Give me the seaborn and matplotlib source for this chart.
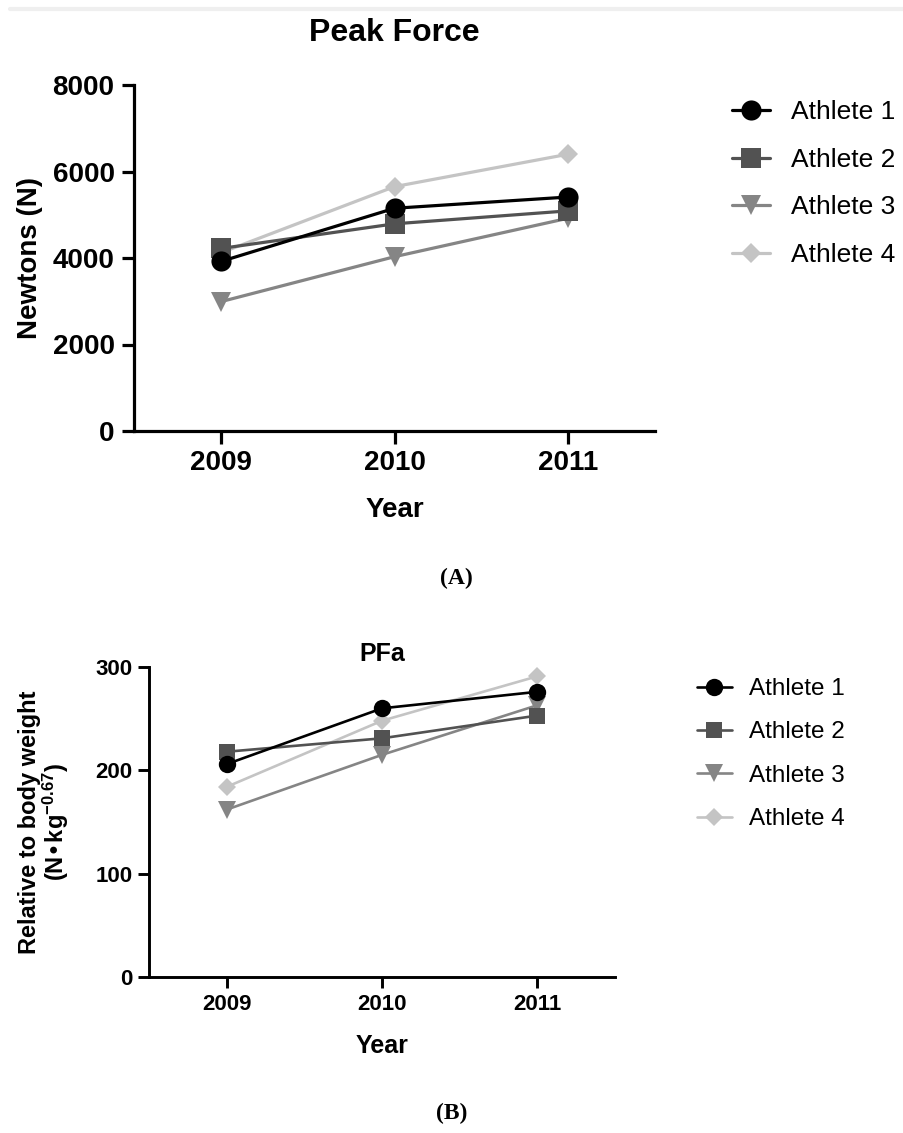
import numpy as np
import matplotlib
matplotlib.use('Agg')
import matplotlib.pyplot as plt
import seaborn as sns
import pandas as pd

# data
years = [2009, 2010, 2011]
athletes = ['Athlete 1', 'Athlete 2', 'Athlete 3', 'Athlete 4']

# Peak force (N)
pf_athlete1 = [3920, 5150, 5410]
pf_athlete2 = [4220, 4790, 5090]
pf_athlete3 = [2990, 4030, 4920]
pf_athlete4 = [4120, 5650, 6400]

# PFa, relative to body weight (N*kg^-0.67)
pfa_athlete1 = [206, 260, 276]
pfa_athlete2 = [218, 231, 253]
pfa_athlete3 = [162, 215, 263]
pfa_athlete4 = [184, 248, 291]

colors = ['#000000', '#525252', '#858585', '#c4c4c4']
markers = ['o', 's', 'v', 'D']

sns.set_style('ticks')
plt.rcParams['font.family'] = ['Liberation Sans', 'DejaVu Sans']
plt.rcParams['mathtext.default'] = 'regular'
for k in ['text.color', 'axes.labelcolor', 'xtick.color', 'ytick.color', 'axes.edgecolor']:
    plt.rcParams[k] = 'black'


def long_table(series):
    rows = []
    for name, vals in zip(athletes, series):
        for yr, v in zip(years, vals):
            rows.append({'Year': yr, 'Value': v, 'Athlete': name})
    return pd.DataFrame(rows)


def draw_panel(ax, df, msize, lw, tick_fs, spine_w, tick_len, pad):
    sizes = {'o': msize, 's': msize * 0.97, 'v': msize, 'D': msize * 0.72}
    # draw athlete 4 first so athlete 1 ends up on top
    for name, col, mk in reversed(list(zip(athletes, colors, markers))):
        sub = df[df['Athlete'] == name]
        sns.lineplot(data=sub, x='Year', y='Value', ax=ax, color=col, marker=mk,
                     markersize=sizes[mk], markeredgewidth=0, linewidth=lw,
                     label=name, clip_on=False, legend=False)
    ax.set_xlim(2008.5, 2011.5)
    ax.set_xticks(years)
    ax.set_xticklabels([str(y) for y in years])
    sns.despine(ax=ax)
    for s in ['left', 'bottom']:
        ax.spines[s].set_linewidth(spine_w)
    ax.tick_params(width=spine_w, length=tick_len, labelsize=tick_fs, pad=pad, color='black')
    ax.grid(False)


fig = plt.figure(figsize=(9.04, 11.33), dpi=100)
W, H = 904, 1133

# faint border line at the very top
fig.add_artist(plt.Line2D([10 / W, 1], [1 - 9 / H, 1 - 9 / H], color='#efefef', linewidth=3))

# ---------- Panel A ----------
axA = fig.add_axes([134 / W, 1 - 431 / H, 521 / W, 346 / H])
dfA = long_table([pf_athlete1, pf_athlete2, pf_athlete3, pf_athlete4])
draw_panel(axA, dfA, msize=14.5, lw=2.3, tick_fs=20, spine_w=2.3, tick_len=9, pad=5)
axA.set_ylim(0, 8000)
axA.set_yticks([0, 2000, 4000, 6000, 8000])
for lab in axA.get_xticklabels() + axA.get_yticklabels():
    lab.set_fontweight('bold')
axA.set_title('Peak Force', fontsize=23, fontweight='bold', pad=32)
axA.set_xlabel('Year', fontsize=20, fontweight='bold')
axA.set_ylabel('Newtons (N)', fontsize=20, fontweight='bold')
axA.xaxis.set_label_coords(0.5, -0.19)
axA.yaxis.set_label_coords(-0.2, 0.5)
axA.yaxis.label.set_va('center')

hA, lA = axA.get_legend_handles_labels()
order = [lA.index(a) for a in athletes]
fig.legend([hA[i] for i in order], [lA[i] for i in order], loc='upper left',
           bbox_to_anchor=(732 / W, 1 - 100 / H), frameon=False, fontsize=19,
           handlelength=1.45, handletextpad=0.8, labelspacing=0.9,
           borderpad=0, borderaxespad=0)

fig.text(456 / W, 1 - 578 / H, '(A)', ha='center', va='center', fontsize=17,
         fontweight='bold', family=['Liberation Serif', 'DejaVu Serif'])

# ---------- Panel B ----------
axB = fig.add_axes([149 / W, 1 - 977 / H, 466 / W, 310 / H])
dfB = long_table([pfa_athlete1, pfa_athlete2, pfa_athlete3, pfa_athlete4])
draw_panel(axB, dfB, msize=12.5, lw=1.9, tick_fs=16, spine_w=2.1, tick_len=8, pad=4)
axB.set_ylim(0, 300)
axB.set_yticks([0, 100, 200, 300])
for lab in axB.get_xticklabels() + axB.get_yticklabels():
    lab.set_fontweight('bold')
axB.set_title('PFa', fontsize=18, fontweight='bold', pad=4)
axB.set_xlabel('Year', fontsize=18, fontweight='bold')
axB.set_ylabel('Relative to body weight\n(N\u2022kg$^{-0.67}$)', fontsize=17,
               fontweight='bold', linespacing=1.0)
axB.xaxis.set_label_coords(0.5, -0.185)
axB.yaxis.set_label_coords(-0.225, 0.5)
axB.yaxis.label.set_va('center')

hB, lB = axB.get_legend_handles_labels()
order = [lB.index(a) for a in athletes]
fig.legend([hB[i] for i in order], [lB[i] for i in order], loc='upper left',
           bbox_to_anchor=(697 / W, 1 - 678 / H), frameon=False, fontsize=17.5,
           handlelength=1.42, handletextpad=0.72, labelspacing=0.88,
           borderpad=0, borderaxespad=0)

fig.text(452 / W, 1 - 1113 / H, '(B)', ha='center', va='center', fontsize=17,
         fontweight='bold', family=['Liberation Serif', 'DejaVu Serif'])

fig.savefig('out.png', dpi=100)
